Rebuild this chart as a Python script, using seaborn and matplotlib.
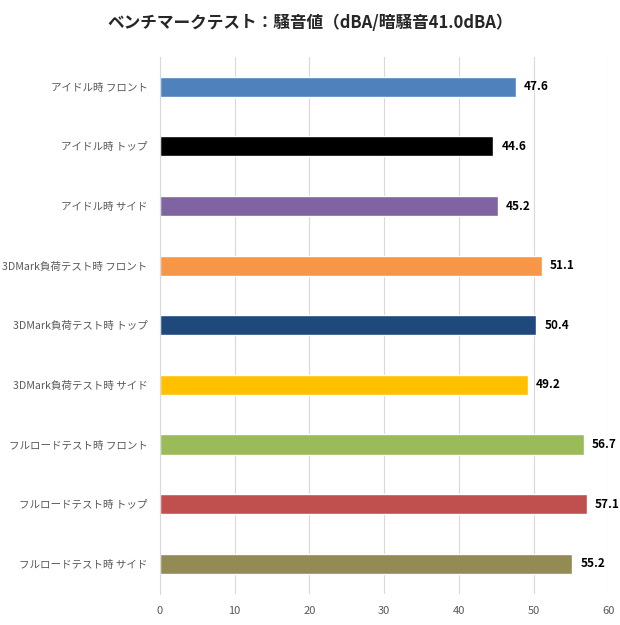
import seaborn as sns
import matplotlib.pyplot as plt
import pandas as pd

labels = ["アイドル時 フロント", "アイドル時 トップ", "アイドル時 サイド",
          "3DMark負荷テスト時 フロント", "3DMark負荷テスト時 トップ", "3DMark負荷テスト時 サイド",
          "フルロードテスト時 フロント", "フルロードテスト時 トップ", "フルロードテスト時 サイド"]
values = [47.6, 44.6, 45.2, 51.1, 50.4, 49.2, 56.7, 57.1, 55.2]
colors = ["#4f81bd", "#000000", "#8064a2", "#f79646", "#1f497d",
          "#ffc000", "#9bbb59", "#c0504d", "#948a54"]

df = pd.DataFrame({"label": labels, "value": values})

sns.set_style("white")
plt.rcParams['font.family'] = ['Noto Sans CJK JP', 'DejaVu Sans']

fig = plt.figure(figsize=(6.2, 6.25), dpi=100)
ax = fig.add_axes([0.258, 0.05, 0.723, 0.859])

sns.barplot(data=df, x="value", y="label", hue="label", palette=colors,
            legend=False, width=0.34, saturation=1, ax=ax)

for i, v in enumerate(values):
    ax.text(v + 1.1, i, f"{v:.1f}", va="center", ha="left",
            fontsize=8.5, fontweight="bold", color="black")

ax.set_xlim(0, 60)
ax.set_xticks(range(0, 61, 10))
ax.grid(axis="x", color="#d9d9d9", linewidth=0.8)
ax.set_axisbelow(True)
for s in ["top", "right", "bottom"]:
    ax.spines[s].set_visible(False)
ax.spines["left"].set_color("#d9d9d9")
ax.tick_params(axis="both", length=0, labelsize=8, labelcolor="#595959")
ax.tick_params(axis="y", labelsize=7.6, pad=9)
ax.tick_params(axis="x", pad=9)
ax.set_xlabel("")
ax.set_ylabel("")

fig.suptitle("ベンチマークテスト：騒音値（dBA/暗騒音41.0dBA）", x=0.5, y=0.977,
             fontsize=12, fontweight="bold")

plt.savefig("out.png", dpi=100)
